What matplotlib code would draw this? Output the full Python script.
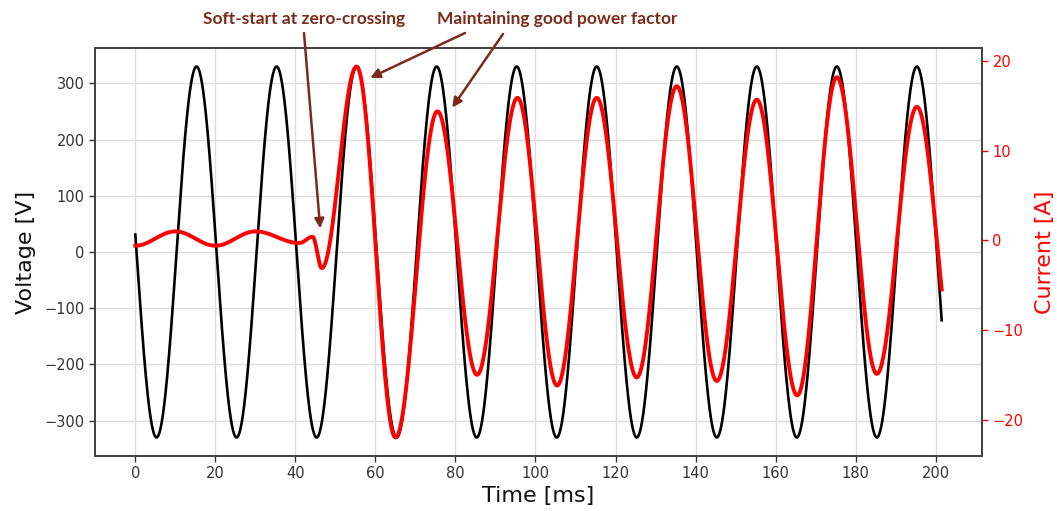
import numpy as np
import matplotlib
matplotlib.use("Agg")
import matplotlib.pyplot as plt

# ---------------- data ----------------
t_start, t_end = 0.0, 201.5          # record span [ms]

# Voltage extrema (time [ms], value [V])
v_ext_t = [5.3, 15.3, 25.3, 35.3, 45.3, 55.3, 65.3, 75.3, 85.3, 95.3, 105.3,
           115.3, 125.3, 135.3, 145.3, 155.3, 165.3, 175.3, 185.3, 195.3]
v_ext_v = [-330, 330, -330, 330, -330, 330, -330, 330, -330, 330, -330,
           330, -330, 330, -330, 330, -330, 330, -330, 330]

# Current extrema / turning points (time [ms], value [A])
i_ext_t = [0.0, 10.0, 20.0, 30.0, 41.0, 44.3, 46.6, 55.3, 65.0, 75.5, 85.4,
           95.5, 105.4, 115.3, 125.3, 135.3, 145.3, 155.3, 165.4, 175.3,
           185.3, 195.3]
i_ext_v = [-0.6, 1.0, -0.6, 1.0, -0.3, 0.4, -3.1, 19.4, -22.0, 14.4, -15.0,
           15.9, -16.2, 15.9, -15.3, 17.2, -15.7, 15.7, -17.3, 18.2,
           -14.9, 14.9]

x_ticks = [0, 20, 40, 60, 80, 100, 120, 140, 160, 180, 200]
v_ticks = [-300, -200, -100, 0, 100, 200, 300]
i_ticks = [-20, -10, 0, 10, 20]

annot_soft = "Soft-start at zero-crossing"
annot_pf = "Maintaining good power factor"


def trace(kt, kv, t0, t1, per_ms=40):
    """Smooth half-cosine path through turning points, continued to record ends."""
    kt = np.asarray(kt, float)
    kv = np.asarray(kv, float)
    ts, ys = [], []
    if t0 < kt[0]:
        hp = kt[1] - kt[0]
        mid, a = (kv[0] + kv[1]) / 2, (kv[0] - kv[1]) / 2
        t = np.linspace(t0, kt[0], max(2, int((kt[0] - t0) * per_ms)))
        ts.append(t); ys.append(mid + a * np.cos(np.pi * (t - kt[0]) / hp))
    for k in range(len(kt) - 1):
        hp = kt[k + 1] - kt[k]
        mid, a = (kv[k] + kv[k + 1]) / 2, (kv[k] - kv[k + 1]) / 2
        t = np.linspace(kt[k], kt[k + 1], max(2, int(hp * per_ms)))
        ts.append(t); ys.append(mid + a * np.cos(np.pi * (t - kt[k]) / hp))
    if t1 > kt[-1]:
        hp = kt[-1] - kt[-2]
        mid, a = (kv[-2] + kv[-1]) / 2, (kv[-2] - kv[-1]) / 2
        t = np.linspace(kt[-1], t1, max(2, int((t1 - kt[-1]) * per_ms)))
        ts.append(t); ys.append(mid + a * np.cos(np.pi * (t - kt[-2]) / hp))
    return np.concatenate(ts), np.concatenate(ys)


tv, vv = trace(v_ext_t, v_ext_v, t_start, t_end)
ti, iv = trace(i_ext_t, i_ext_v, t_start, t_end)

# ---------------- figure ----------------
W, H = 1057, 511
fig = plt.figure(figsize=(W / 100, H / 100), dpi=100)
ax = fig.add_axes([95 / W, 1 - 456 / H, (982 - 95) / W, (456 - 48) / H])
ax2 = ax.twinx()

ax.plot(tv, vv, color="black", lw=1.9, zorder=3)
ax2.plot(ti, iv, color="#ff0000", lw=2.8, zorder=3)

ax.set_xticks(x_ticks)
ax.set_yticks(v_ticks)
ax2.set_yticks(i_ticks)
ax.margins(x=0.05, y=0.05)
ax2.margins(y=0.05)

ax.grid(True, color="#dcdcdc", lw=1.0)
ax.set_axisbelow(True)

tick_col = "#333333"
ax.tick_params(axis="both", labelsize=10.5, colors=tick_col, length=4, width=1)
ax2.tick_params(axis="y", labelsize=10.5, colors="#ff0000", length=4, width=1)

ax.set_xlabel("Time [ms]", fontsize=16, color="#111111", labelpad=3)
ax.set_ylabel("Voltage [V]", fontsize=16, color="#111111", labelpad=6)
ax2.set_ylabel("Current [A]", fontsize=16, color="#ff0000", labelpad=8)

for a in (ax, ax2):
    for s in a.spines.values():
        s.set_color("#444444")
        s.set_linewidth(1.3)

# ---------------- annotations ----------------
acol = "#7b2b1c"
fig.text(304 / W, 1 - 19 / H, annot_soft, ha="center", va="center",
         fontsize=12.5, fontweight="bold", color=acol, family=["Lato", "DejaVu Sans"])
fig.text(557 / W, 1 - 19 / H, annot_pf, ha="center", va="center",
         fontsize=12.5, fontweight="bold", color=acol, family=["Lato", "DejaVu Sans"])

arrows = [((46.2, 42.0), (304 / W, 1 - 33 / H)),
          ((58.7, 310.0), (465 / W, 1 - 33 / H)),
          ((79.2, 257.0), (503 / W, 1 - 34 / H))]
for tip, tail in arrows:
    ax2.annotate("", xy=tip, xycoords=ax.transData, xytext=tail,
                 textcoords="figure fraction", annotation_clip=False,
                 arrowprops=dict(arrowstyle="-|>", color=acol, lw=1.8,
                                 mutation_scale=14, shrinkA=0, shrinkB=0))

fig.savefig("out.png", dpi=100)
